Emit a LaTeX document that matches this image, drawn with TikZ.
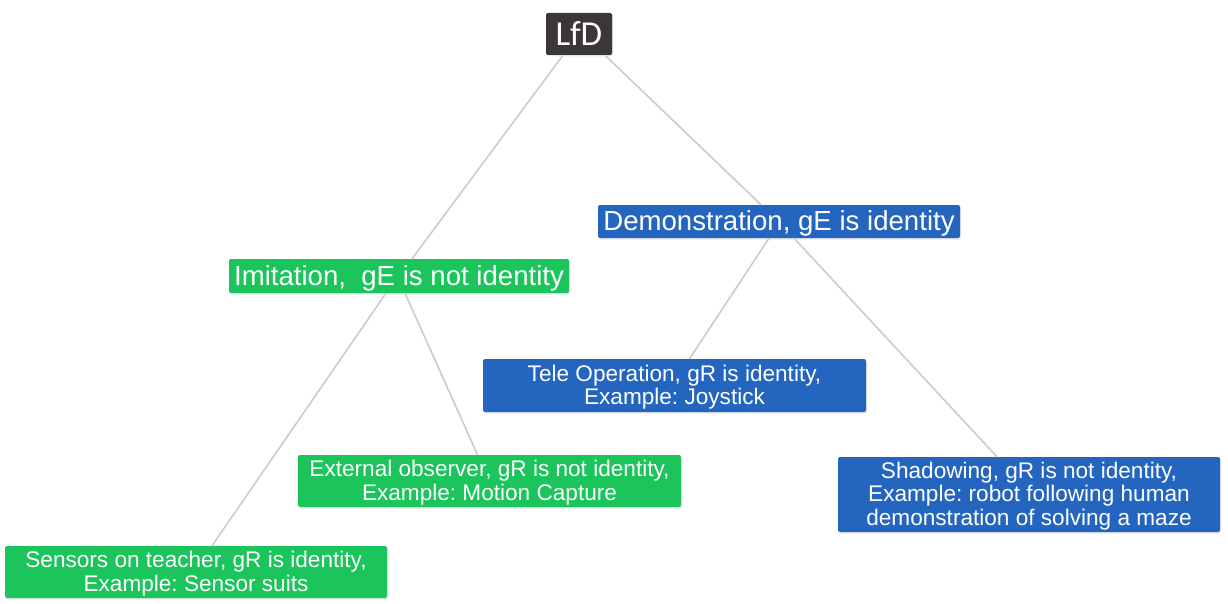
\documentclass[tikz,border=0pt]{standalone}
\usepackage{fontspec}
\setmainfont{Liberation Sans}
\newfontfamily\lfdfont{Carlito}
\usetikzlibrary{shadows}
\definecolor{boxgreen}{HTML}{1BC55C}
\definecolor{boxblue}{HTML}{2465BF}
\definecolor{boxdark}{HTML}{3A3736}
\definecolor{linegray}{HTML}{CCCCCC}
\tikzset{
  basebox/.style={rectangle, rounded corners=2pt, text=white, align=center, inner sep=0pt,
    drop shadow={opacity=0.18, shadow xshift=1pt, shadow yshift=-1.5pt}},
  greenbox/.style={basebox, fill=boxgreen},
  bluebox/.style={basebox, fill=boxblue},
  darkbox/.style={basebox, fill=boxdark},
  bigtext/.style={font=\frenchspacing\fontsize{27.6}{30}\selectfont, text depth=2pt},
  smalltext/.style={font=\frenchspacing\fontsize{22.6}{23.4}\selectfont, text depth=1.5pt},
  edge/.style={draw=linegray, line width=1.6pt}
}
\begin{document}
\begin{tikzpicture}[x=1pt,y=-1pt]
\useasboundingbox[fill=white] (0,0) rectangle (1228,604);
% nodes
\node[darkbox, minimum width=66pt, minimum height=42pt, font=\lfdfont\fontsize{35}{38}\selectfont] (lfd) at (579,34) {LfD};
\node[bluebox, bigtext, minimum width=362pt, minimum height=33pt] (demo) at (779,221.5) {Demonstration, gE is identity};
\node[greenbox, bigtext, minimum width=340pt, minimum height=34pt] (imit) at (399,276) {Imitation, \ gE is not identity};
\node[bluebox, smalltext, minimum width=383pt, minimum height=53pt] (tele) at (674.5,385.5) {Tele Operation, gR is identity,\\Example: Joystick};
\node[greenbox, smalltext, minimum width=383pt, minimum height=52pt] (ext) at (489.5,481) {External observer, gR is not identity,\\Example: Motion Capture};
\node[bluebox, smalltext, minimum width=382pt, minimum height=75pt] (shad) at (1029,494.5) {Shadowing, gR is not identity,\\Example: robot following human\\demonstration of solving a maze};
\node[greenbox, smalltext, minimum width=382pt, minimum height=52pt] (sens) at (196,572) {Sensors on teacher, gR is identity,\\Example: Sensor suits};
% connectors
\draw[edge] ([xshift=-16pt]lfd.south) -- ([xshift=13pt]imit.north);
\draw[edge] ([xshift=26pt]lfd.south) -- ([xshift=-18pt]demo.north);
\draw[edge] ([xshift=-13pt]imit.south) -- ([xshift=16pt]sens.north);
\draw[edge] ([xshift=6pt]imit.south) -- ([xshift=-12pt]ext.north);
\draw[edge] ([xshift=-10pt]demo.south) -- ([xshift=15pt]tele.north);
\draw[edge] ([xshift=15pt]demo.south) -- ([xshift=-32pt]shad.north);
\end{tikzpicture}
\end{document}
